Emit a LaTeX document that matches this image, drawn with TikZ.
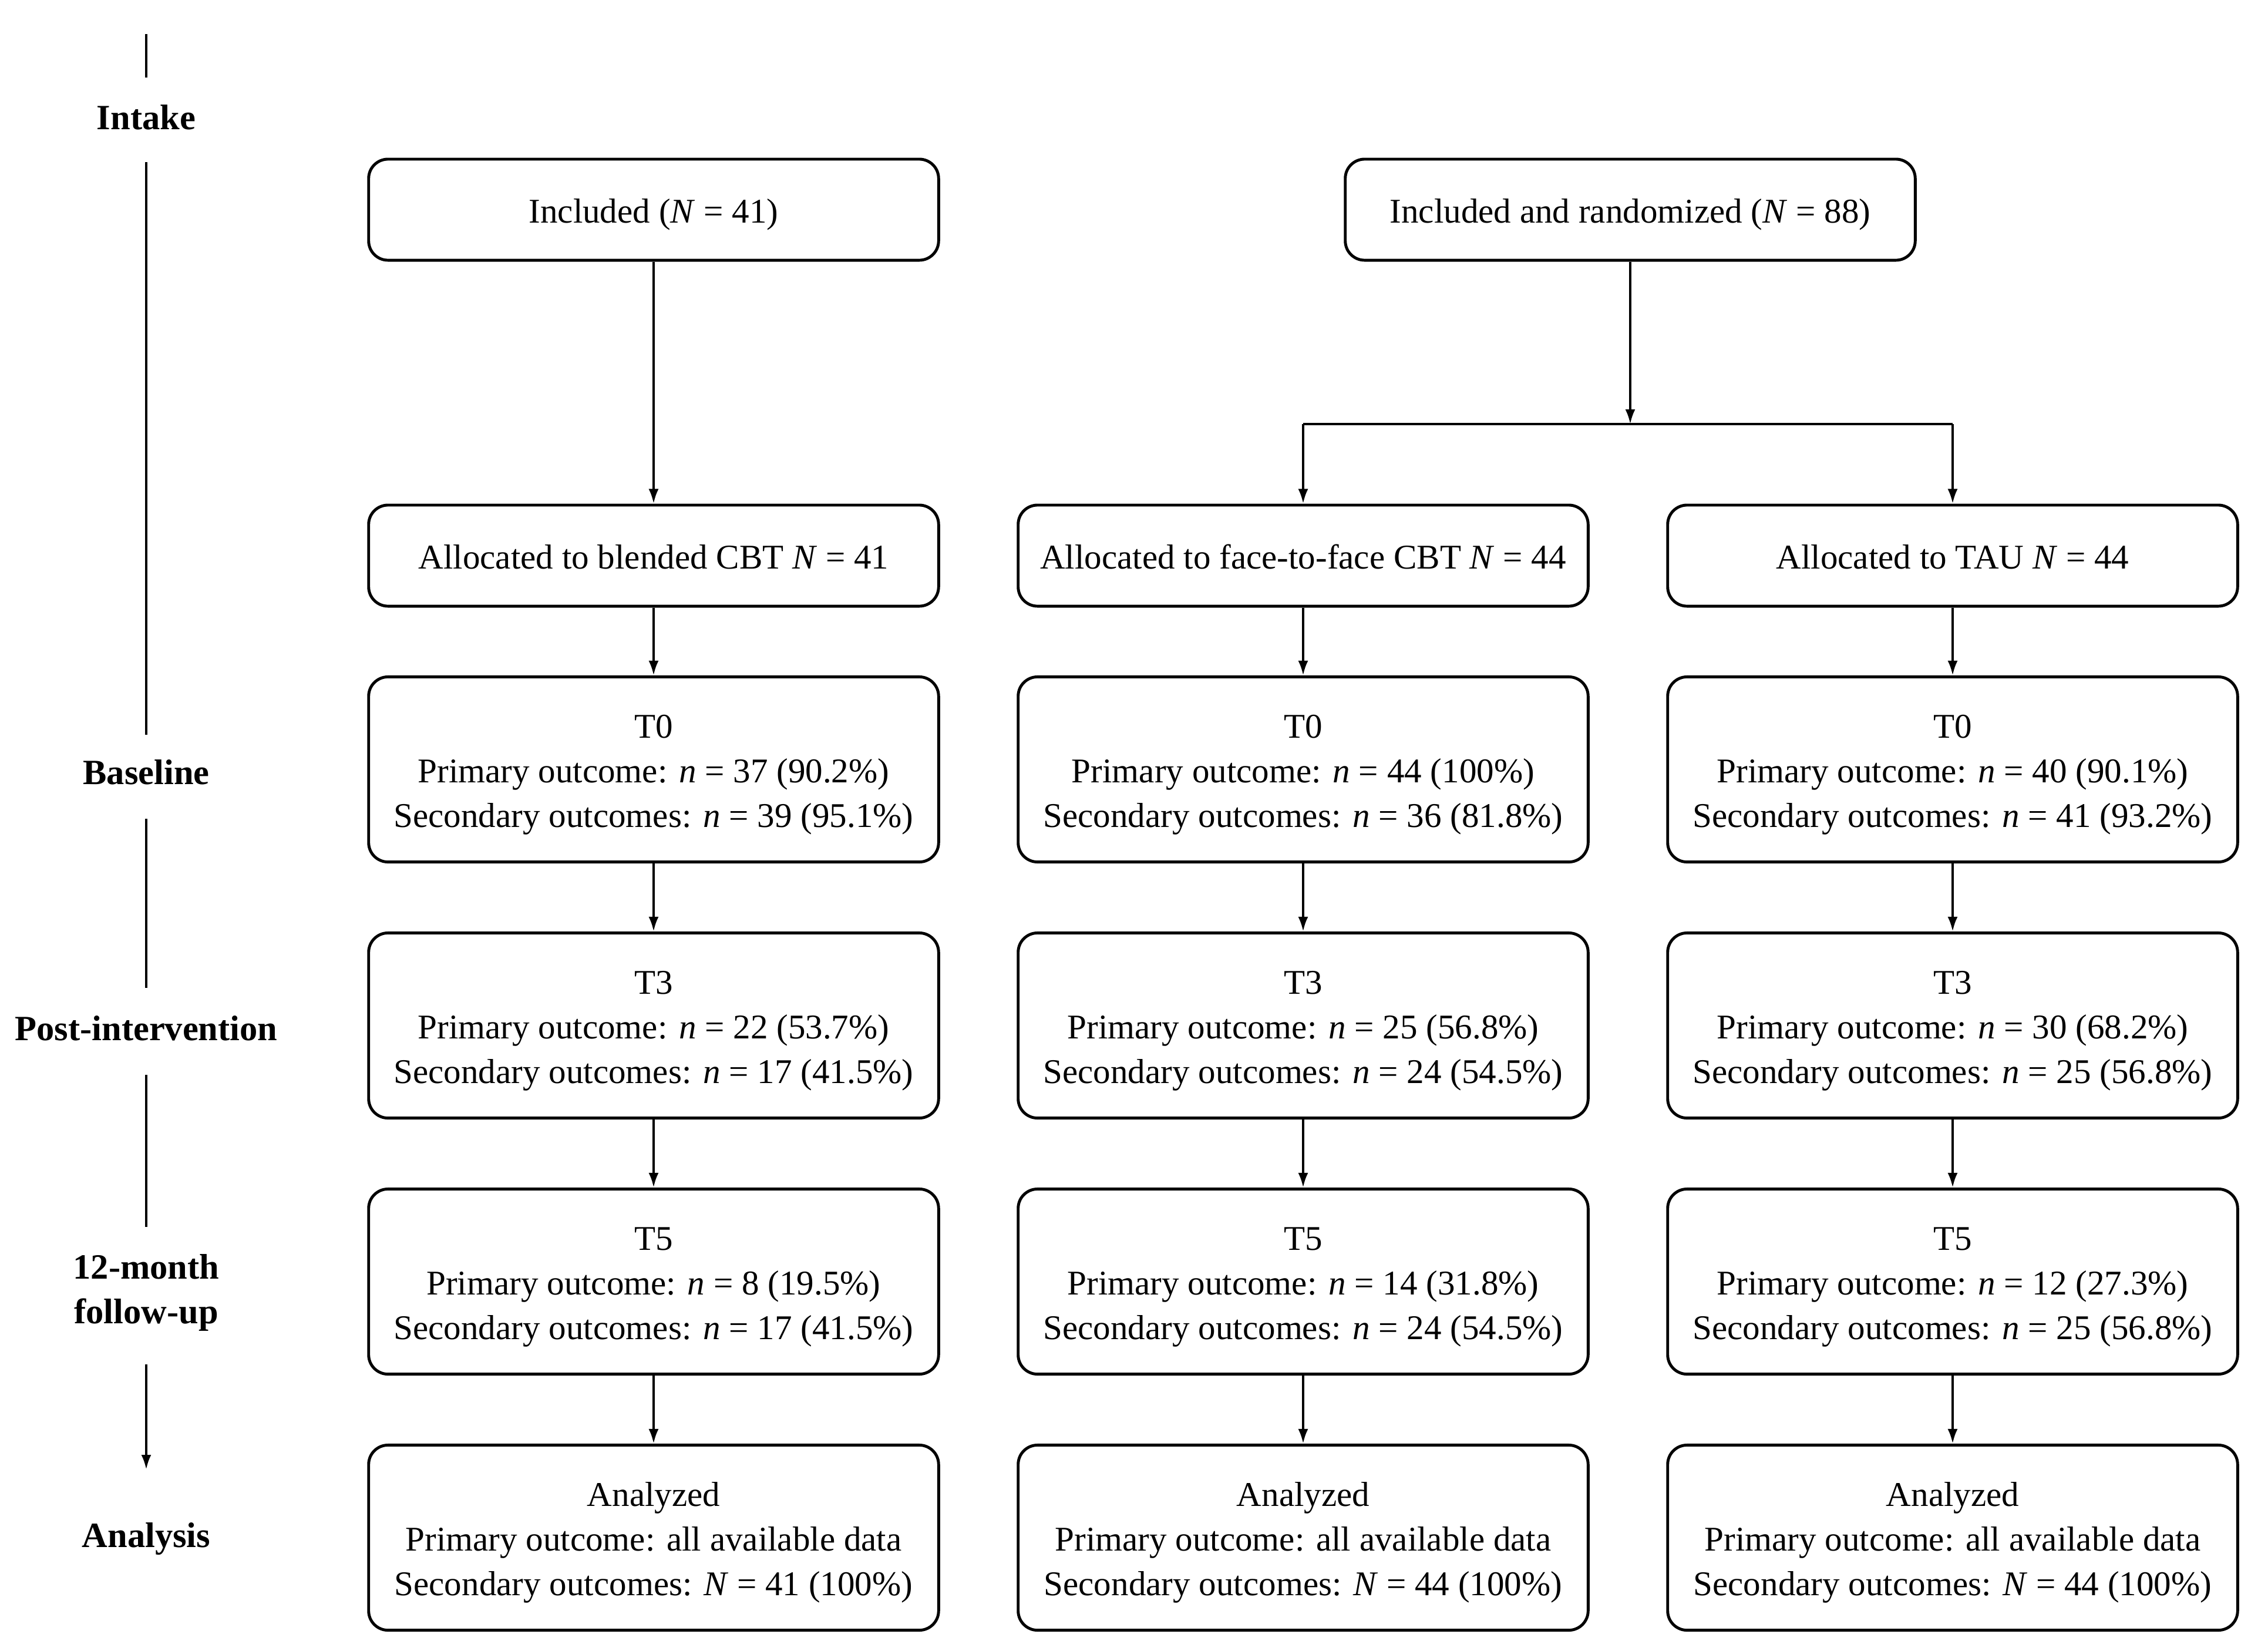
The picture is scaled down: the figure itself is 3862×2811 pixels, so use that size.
\documentclass[tikz,border=0pt]{standalone}
\usepackage{fontspec}
\setmainfont{Liberation Serif}
\usetikzlibrary{arrows.meta}
\newcommand\topstrut{\rule{0pt}{0.65cm}}
\newcommand\botstrut{\rule[-0.2cm]{0pt}{0pt}}
\newcommand\threelines[3]{\topstrut#1\\Primary outcome: \textit{n} = #2\\Secondary outcomes: \textit{n} = #3\botstrut}
\newcommand\anlines[1]{\topstrut Analyzed\\Primary outcome: all available data\\Secondary outcomes: \textit{N} = #1 (100\%)\botstrut}
\begin{document}
\begin{tikzpicture}[x=0.01cm,y=-0.01cm,
  font=\fontsize{16.8}{21.5}\selectfont,
  box/.style={draw, line width=1.4pt, rounded corners=0.33cm, minimum width=9.7cm, align=center, inner sep=0pt},
  sbox/.style={box, minimum height=1.72cm, text height=0.65cm, text depth=0.2cm},
  tbox/.style={box, minimum height=3.15cm},
  conn/.style={line width=1.1pt, -{Latex[length=0.25cm,width=0.17cm]}},
  plain/.style={line width=1.1pt},
  lab/.style={font=\fontsize{17.2}{21.5}\selectfont\bfseries, align=center}]
\useasboundingbox (0,0) rectangle (3862,2811);

% timeline labels
\node[lab] (lIntake) at (249,200) {Intake};
\node[lab] (lBase) at (249,1315) {Baseline};
\node[lab] (lPost) at (249,1751) {Post-intervention};
\node[lab] (lFU) at (249,2201) {12-month\\follow-up};
\node[lab] (lAna) at (249,2620) {Analysis};
\coordinate (t0) at (249,58);
\coordinate (t1) at (249,132);
\coordinate (t2) at (249,276);
\coordinate (t3) at (249,1251);
\coordinate (t4) at (249,1394);
\coordinate (t5) at (249,1682);
\coordinate (t6) at (249,1830);
\coordinate (t7) at (249,2089);
\coordinate (t8) at (249,2323);
\coordinate (t9) at (249,2502);
\draw[plain] (t0) -- (t1);
\draw[plain] (t2) -- (t3);
\draw[plain] (t4) -- (t5);
\draw[plain] (t6) -- (t7);
\draw[conn] (t8) -- (t9);

% top boxes
\node[sbox] (inc1) at (1113,357) {Included (\textit{N} = 41)};
\node[sbox] (inc2) at (2776,357) {Included and randomized (\textit{N} = 88)};

% allocation
\node[sbox] (al1) at (1113,946) {Allocated to blended CBT \textit{N} = 41};
\node[sbox] (al2) at (2219,946) {Allocated to face-to-face CBT \textit{N} = 44};
\node[sbox] (al3) at (3325,946) {Allocated to TAU \textit{N} = 44};

% T0
\node[tbox] (b1) at (1113,1310) {\threelines{T0}{37 (90.2\%)}{39 (95.1\%)}};
\node[tbox] (b2) at (2219,1310) {\threelines{T0}{44 (100\%)}{36 (81.8\%)}};
\node[tbox] (b3) at (3325,1310) {\threelines{T0}{40 (90.1\%)}{41 (93.2\%)}};
% T3
\node[tbox] (p1) at (1113,1746) {\threelines{T3}{22 (53.7\%)}{17 (41.5\%)}};
\node[tbox] (p2) at (2219,1746) {\threelines{T3}{25 (56.8\%)}{24 (54.5\%)}};
\node[tbox] (p3) at (3325,1746) {\threelines{T3}{30 (68.2\%)}{25 (56.8\%)}};
% T5
\node[tbox] (f1) at (1113,2182) {\threelines{T5}{8 (19.5\%)}{17 (41.5\%)}};
\node[tbox] (f2) at (2219,2182) {\threelines{T5}{14 (31.8\%)}{24 (54.5\%)}};
\node[tbox] (f3) at (3325,2182) {\threelines{T5}{12 (27.3\%)}{25 (56.8\%)}};
% Analyzed
\node[tbox] (n1) at (1113,2618) {\anlines{41}};
\node[tbox] (n2) at (2219,2618) {\anlines{44}};
\node[tbox] (n3) at (3325,2618) {\anlines{44}};

% split
\coordinate (jn) at (inc2.south |- 0,722);
\coordinate (jl) at (al2.north |- 0,722);
\coordinate (jr) at (al3.north |- 0,722);
\draw[conn] (inc2.south) -- (jn);
\draw[line width=1.4pt] (jl) -- (jr);
\draw[conn] (jl) -- (al2.north);
\draw[conn] (jr) -- (al3.north);

\draw[conn] (inc1) -- (al1);
\foreach \c in {1,2,3}{
  \draw[conn] (al\c) -- (b\c);
  \draw[conn] (b\c) -- (p\c);
  \draw[conn] (p\c) -- (f\c);
  \draw[conn] (f\c) -- (n\c);
}
\end{tikzpicture}
\end{document}
